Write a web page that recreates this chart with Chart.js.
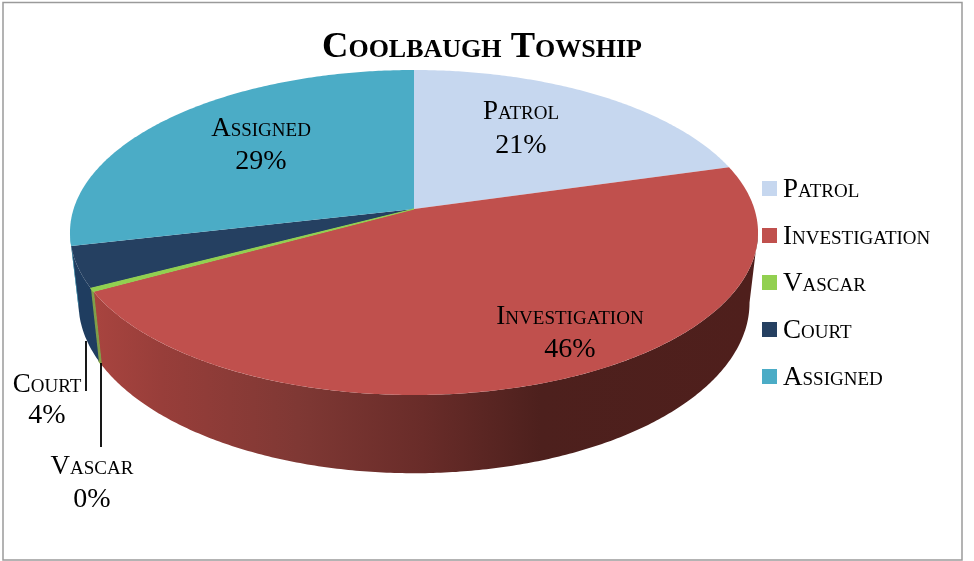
<!DOCTYPE html>
<html>
<head>
<meta charset="utf-8">
<style>
  html, body { margin: 0; padding: 0; background: #fff; }
  canvas { display: block; }
</style>
</head>
<body>
<canvas id="chart" width="974" height="561"></canvas>
<script src="https://cdn.jsdelivr.net/npm/chart.js@4"></script>
<script>
const categories = ["Patrol", "Investigation", "Vascar", "Court", "Assigned"];
const shares = [20.6, 46.4, 0.3, 4.1, 28.6];
const colors = ["#c6d7ef", "#c0504d", "#92d050", "#254061", "#4bacc6"];

const FONT = "'Liberation Serif', serif";
const NAME_SIZE = 27;
const PERCENT_SIZE = 28;

// perspective of the pie: top face and (further away) bottom face
const view = {
  cx: 414, k: 0.1446,
  top: { y: 209, a: 340.4, b: 159.1 },
  bottom: { y: 278, a: 332, b: 167 },
};

// centre of each slice's data label: [x, y of first line, y of second line]
const labelPos = [
  [521, 119, 153],
  [570, 324, 357],
  [92, 474, 507],
  [47, 392, 423],
  [261, 136, 169],
];

function project(theta, face) {
  const u = Math.cos(theta), v = Math.sin(theta);
  const w = 1 - view.k * v;
  return [view.cx + face.a * u / w, face.y + face.b * v / w];
}

function tracePath(ctx, from, to, face, move) {
  const steps = Math.max(2, Math.ceil(Math.abs(to - from) / 0.01));
  for (let i = 0; i <= steps; i++) {
    const p = project(from + (to - from) * i / steps, face);
    if (i === 0 && move) ctx.moveTo(p[0], p[1]);
    else ctx.lineTo(p[0], p[1]);
  }
}

function wallFill(ctx, index) {
  if (index === 1) {
    const g = ctx.createLinearGradient(95, 0, 750, 0);
    g.addColorStop(0, "#a8443f");
    g.addColorStop(0.1, "#983e3a");
    g.addColorStop(0.31, "#7f3834");
    g.addColorStop(0.5, "#692c29");
    g.addColorStop(0.68, "#4d201d");
    g.addColorStop(1, "#4f1f1c");
    return g;
  }
  if (index === 2) return "#7f9e48";
  if (index === 3) return "#1f3d60";
  return colors[index];
}

const pie3d = {
  id: "pie3d",
  beforeDraw(chart) {
    const ctx = chart.ctx;
    ctx.save();
    ctx.fillStyle = "#fff";
    ctx.fillRect(0, 0, chart.width, chart.height);
    ctx.strokeStyle = "#9a9a9a";
    ctx.lineWidth = 1.5;
    ctx.strokeRect(3, 2.5, 959, 557.5);
    ctx.restore();
  },
  beforeDatasetDraw(chart, args) {
    const ctx = chart.ctx;
    const arcs = args.meta.data;
    const frontFrom = Math.asin(view.k);
    const frontTo = Math.PI - frontFrom;
    ctx.save();
    // outer wall, front part only
    arcs.forEach((arc, i) => {
      const from = Math.max(arc.startAngle, frontFrom);
      const to = Math.min(arc.endAngle, frontTo);
      if (to <= from) return;
      ctx.beginPath();
      tracePath(ctx, from, to, view.top, true);
      tracePath(ctx, to, from, view.bottom, false);
      ctx.closePath();
      ctx.fillStyle = wallFill(ctx, i);
      ctx.fill();
      if (i === 2) {
        ctx.strokeStyle = wallFill(ctx, i);
        ctx.lineWidth = 1.2;
        ctx.stroke();
      }
    });
    // top face
    arcs.forEach((arc, i) => {
      ctx.beginPath();
      ctx.moveTo(view.cx, view.top.y);
      tracePath(ctx, arc.startAngle, arc.endAngle, view.top, false);
      ctx.closePath();
      ctx.fillStyle = colors[i];
      ctx.fill();
    });
    // the Vascar sliver is too thin to show from its fill alone
    const sliver = arcs[2];
    ctx.beginPath();
    ctx.moveTo(view.cx, view.top.y);
    tracePath(ctx, sliver.startAngle, sliver.endAngle, view.top, false);
    ctx.closePath();
    ctx.strokeStyle = colors[2];
    ctx.lineWidth = 1.2;
    ctx.stroke();
    ctx.restore();
    return false;
  },
  afterDraw(chart) {
    const ctx = chart.ctx;
    const total = shares.reduce((s, v) => s + v, 0);
    ctx.save();
    // leader lines
    ctx.strokeStyle = "#000";
    ctx.lineWidth = 1.8;
    ctx.beginPath();
    ctx.moveTo(86, 341); ctx.lineTo(86, 391);
    ctx.moveTo(101, 363); ctx.lineTo(101, 447);
    ctx.stroke();
    // data labels
    ctx.fillStyle = "#000";
    ctx.textAlign = "center";
    ctx.textBaseline = "alphabetic";
    categories.forEach((name, i) => {
      const [x, y1, y2] = labelPos[i];
      ctx.font = "small-caps " + NAME_SIZE + "px " + FONT;
      ctx.fillText(name, x, y1);
      ctx.font = PERCENT_SIZE + "px " + FONT;
      ctx.fillText(Math.round(shares[i] / total * 100) + "%", x, y2);
    });
    // legend
    ctx.textAlign = "left";
    ctx.font = "small-caps " + NAME_SIZE + "px " + FONT;
    categories.forEach((name, i) => {
      const y = 181 + i * 47;
      ctx.fillStyle = colors[i];
      ctx.fillRect(762, y, 15, 15);
      ctx.fillStyle = "#000";
      ctx.fillText(name, 783, y + 16);
    });
    ctx.restore();
  },
};

new Chart(document.getElementById("chart"), {
  type: "pie",
  data: {
    labels: categories,
    datasets: [{ data: shares, backgroundColor: colors, borderWidth: 0 }],
  },
  options: {
    responsive: false,
    animation: false,
    layout: { padding: { right: 10 } },
    plugins: {
      legend: { display: false },
      tooltip: { enabled: false },
      title: {
        display: true,
        text: "Coolbaugh Towship",
        color: "#000",
        // the weight goes straight into the canvas font string
        font: { family: FONT, size: 36.5, weight: "small-caps bold" },
        padding: { top: 26, bottom: 0 },
      },
    },
  },
  plugins: [pie3d],
});
</script>
</body>
</html>
